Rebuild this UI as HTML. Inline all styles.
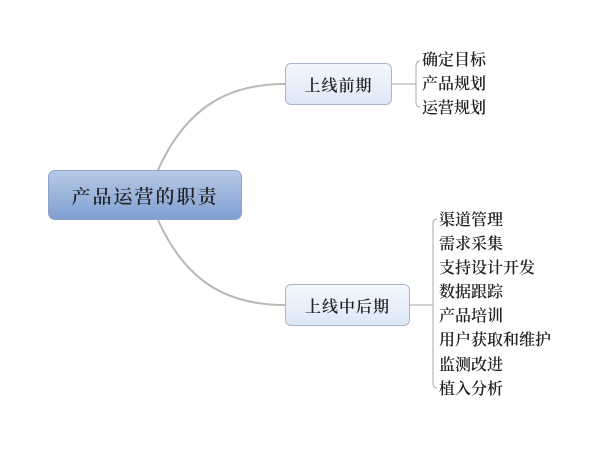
<!DOCTYPE html>
<html><head><meta charset="utf-8"><style>
body{margin:0;width:600px;height:450px;background:#fff;overflow:hidden;position:relative;font-family:"Liberation Serif","Noto Serif CJK SC",serif}
.b{position:absolute;box-sizing:border-box;display:flex;align-items:center;justify-content:center;color:#222;font-weight:600}
.c{left:48px;top:170px;width:194px;height:50px;border:1px solid #8fa4c8;border-radius:7px;background:linear-gradient(#b7c9e6,#7f9fd2);font-size:19px;letter-spacing:2px}
.s{border:1px solid #a9b6cc;border-radius:6px;background:linear-gradient(#f3f7fd,#dde8f7);font-size:16px;letter-spacing:1px}
.t{position:absolute;font-size:16px;color:#222;line-height:24px;white-space:nowrap;font-weight:600}
</style></head><body>
<svg width="600" height="450" style="position:absolute;left:0;top:0" fill="none" stroke="#b8b8b8" stroke-width="2">
<path d="M158,170 C185,110 225,84 285,84"/>
<path d="M158,220 C185,280 225,305 285,305"/>
<g stroke-width="1.2">
<path d="M392,84 H416"/>
<path d="M420,61 Q416,61 416,66 V102 Q416,107 420,107"/>
<path d="M410,305 H433"/>
<path d="M437,219 Q433,219 433,224 V383 Q433,388 437,388"/>
</g>
</svg>
<div class="b c">产品运营的职责</div>
<div class="b s" style="left:285px;top:63px;width:107px;height:42px">上线前期</div>
<div class="b s" style="left:285px;top:284px;width:125px;height:42px">上线中后期</div>
<div class="t" style="left:422px;top:49px">确定目标<br>产品规划<br>运营规划</div>
<div class="t" style="left:439px;top:209px;line-height:24.1px">渠道管理<br>需求采集<br>支持设计开发<br>数据跟踪<br>产品培训<br>用户获取和维护<br>监测改进<br>植入分析</div>
</body></html>
